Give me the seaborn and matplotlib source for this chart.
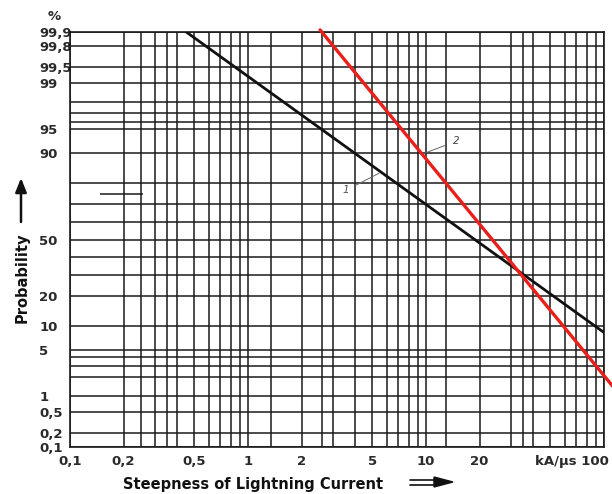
import numpy as np
import pandas as pd
import matplotlib
matplotlib.use("Agg")
import matplotlib.pyplot as plt
import matplotlib.transforms as mtransforms
from matplotlib.ticker import FixedLocator, FixedFormatter, NullFormatter
from matplotlib.patches import Polygon
from matplotlib import font_manager
import seaborn as sns
from statistics import NormalDist

# ---------------- data ----------------
steep_1 = [0.45, 100.0]          # curve 1 (black)
prob_1 = [99.9, 8.3]
steep_2 = [2.54, 112.0]          # curve 2 (red)
prob_2 = [99.91, 1.44]

x_tick_values = [0.1, 0.2, 0.5, 1, 2, 5, 10, 20, 100]
x_tick_labels = ["0,1", "0,2", "0,5", "1", "2", "5", "10", "20", "kA/µs 100"]
x_grid_values = [0.1, 0.2, 0.25, 0.3, 0.35, 0.4, 0.5, 0.6, 0.7, 0.8, 0.9,
                 1, 1.35, 2, 2.6, 3, 4, 5, 6, 7, 8, 9,
                 10, 13, 20, 30, 35, 40, 50, 60, 70, 80, 90, 100]

y_tick_values = [99.9, 99.8, 99.5, 99, 95, 90, 50, 20, 10, 5, 1, 0.5, 0.2, 0.1]
y_tick_labels = ["99,9", "99,8", "99,5", "99", "95", "90", "50", "20", "10",
                 "5", "1", "0,5", "0,2", "0,1"]
y_grid_values = [0.1, 0.2, 0.5, 1, 2, 3, 4, 5, 10, 20, 30, 40, 50, 60, 70, 80,
                 90, 95, 96, 97, 98, 99, 99.5, 99.8, 99.9]

extra_segment_prob = 75
extra_segment_x = [0.148, 0.257]

label_1_text = (3.55, 76.8)
label_1_tip = (5.44, 83.8)
label_2_text = (14.7, 92.8)
label_2_tip = (9.37, 89.7)

# ---------------- probability scale ----------------
_nd = NormalDist()
_ppf = np.vectorize(lambda v: _nd.inv_cdf(v), otypes=[float])
_cdf = np.vectorize(lambda v: _nd.cdf(v), otypes=[float])

def fwd(p):
    p = np.clip(np.asarray(p, dtype=float), 1e-9, 100 - 1e-9)
    return _ppf(p / 100.0)

def inv(z):
    return _cdf(np.asarray(z, dtype=float)) * 100.0

sns.set_theme(style="white")
plt.rcParams["font.family"] = ["DejaVu Sans"]

installed = {f.name for f in font_manager.fontManager.ttflist}
if "Liberation Sans Narrow" in installed:
    tick_family, tick_size = "Liberation Sans Narrow", 10.5
else:
    tick_family, tick_size = "DejaVu Sans", 9.5

W, H = 612, 494
fig = plt.figure(figsize=(W / 100, H / 100), dpi=100)
fig.patch.set_facecolor("white")
L, R, T, B = 70, 604, 32, 447
ax = fig.add_axes([L / W, 1 - B / H, (R - L) / W, (B - T) / H])
ax.set_facecolor("white")

ax.set_xscale("log")
ax.set_yscale("function", functions=(fwd, inv))

grid_color = "#1a1a1a"
for v in x_grid_values:
    ax.axvline(v, color=grid_color, lw=1.1, zorder=1)
for v in y_grid_values:
    ax.axhline(v, color=grid_color, lw=1.1, zorder=1)
ax.hlines(extra_segment_prob, extra_segment_x[0], extra_segment_x[1],
          color=grid_color, lw=1.1, zorder=1)

df1 = pd.DataFrame({"steepness": steep_1, "probability": prob_1})
df2 = pd.DataFrame({"steepness": steep_2, "probability": prob_2})
sns.lineplot(data=df1, x="steepness", y="probability", ax=ax, color="#111111",
             lw=2.0, zorder=3, sort=False)
sns.lineplot(data=df2, x="steepness", y="probability", ax=ax, color="#e8201c",
             lw=2.4, zorder=4, sort=False, clip_on=False)

ax.set_xlim(0.1, 100)
ax.set_ylim(0.1, 99.9)

ax.xaxis.set_major_locator(FixedLocator(x_tick_values))
ax.xaxis.set_major_formatter(FixedFormatter(x_tick_labels))
ax.xaxis.set_minor_formatter(NullFormatter())
ax.xaxis.set_minor_locator(FixedLocator([]))
ax.yaxis.set_major_locator(FixedLocator(y_tick_values))
ax.yaxis.set_major_formatter(FixedFormatter(y_tick_labels))
ax.yaxis.set_minor_locator(FixedLocator([]))
ax.yaxis.set_minor_formatter(NullFormatter())
ax.tick_params(axis="both", length=0, colors="#2a2a2a")
ax.tick_params(axis="x", pad=6)
ax.tick_params(axis="y", pad=22)
for lab in ax.get_xticklabels() + ax.get_yticklabels():
    lab.set_fontfamily(tick_family)
    lab.set_fontweight("bold")
    lab.set_fontsize(tick_size)
for lab in ax.get_yticklabels():
    lab.set_horizontalalignment("left")
last = ax.get_xticklabels()[-1]
last.set_horizontalalignment("right")
last.set_transform(last.get_transform() +
                   mtransforms.ScaledTranslation(5 / 100, 0, fig.dpi_scale_trans))

ax.set_xlabel("")
ax.set_ylabel("")
for s in ax.spines.values():
    s.set_color(grid_color)
    s.set_linewidth(1.2)
ax.grid(False)

# curve labels
ax.annotate("1", xy=label_1_tip, xytext=label_1_text, fontsize=7.5,
            style="italic", color="#555555", ha="center", va="center",
            arrowprops=dict(arrowstyle="-", color="#666666", lw=0.7,
                            shrinkA=2, shrinkB=0))
ax.annotate("2", xy=label_2_tip, xytext=label_2_text, fontsize=7.5,
            style="italic", color="#444444", ha="center", va="center",
            arrowprops=dict(arrowstyle="-", color="#666666", lw=0.7,
                            shrinkA=3, shrinkB=0))

def fx(px):
    return px / W

def fy(py):
    return 1 - py / H

# percent sign
fig.text(fx(54), fy(17), "%", fontsize=tick_size, weight="bold",
         color="#2a2a2a", ha="center", va="center", family=tick_family)

# axis labels
fig.text(fx(253), fy(484), "Steepness of Lightning Current", fontsize=10.5,
         weight="bold", color="#111111", ha="center", va="center")
fig.text(fx(22), fy(278), "Probability", fontsize=10.5, weight="bold",
         color="#111111", ha="center", va="center", rotation=90)

# y arrow
ax.annotate("", xy=(fx(21), fy(178)), xytext=(fx(21), fy(222)),
            xycoords="figure fraction", textcoords="figure fraction",
            arrowprops=dict(arrowstyle="-|>,head_width=0.28,head_length=0.7",
                            lw=1.8, color="#111111", shrinkA=0, shrinkB=0),
            annotation_clip=False)

# x double arrow
fig.add_artist(plt.Line2D([fx(410), fx(436)], [fy(479.5), fy(479.5)],
                          transform=fig.transFigure, color="#111111", lw=1.2))
fig.add_artist(plt.Line2D([fx(410), fx(440)], [fy(484.5), fy(484.5)],
                          transform=fig.transFigure, color="#111111", lw=1.2))
fig.add_artist(Polygon([[fx(434), fy(477)], [fx(453), fy(482)], [fx(434), fy(487)]],
                       closed=True, transform=fig.transFigure,
                       facecolor="#111111", edgecolor="#111111"))

fig.savefig("out.png", dpi=100, facecolor="white")
